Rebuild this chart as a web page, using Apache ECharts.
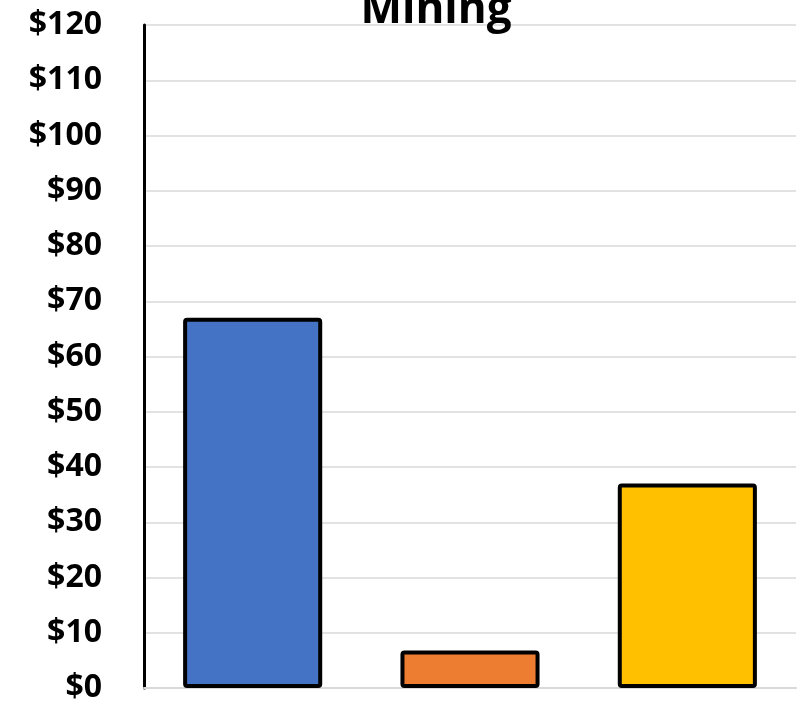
<html>
<head>
    <meta http-equiv="content-type" content="text/html; charset=utf-8">
    <title>Mining</title>
    <script src="https://cdn.jsdelivr.net/npm/echarts@6/dist/echarts.min.js"></script>
    <style>
        body { margin: 0; background: #fff; }
    </style>
</head>

<body>
    <div id='echart' style="width:804px; height:707px;"></div>
    <script type="text/javascript">
        var categories = ["A", "B", "C"];
        var values = [67, 6.8, 37];
        var colors = ["#4472C4", "#ED7D31", "#FFC000"];
        var yTicks = [0, 10, 20, 30, 40, 50, 60, 70, 80, 90, 100, 110, 120];

        var chart = echarts.init(document.getElementById("echart"));
        var option = {
            animation: false,
            title: {
                text: "Mining",
                left: 431,
                textAlign: "center",
                top: -17,
                textStyle: { fontFamily: "Open Sans", fontWeight: "bold", fontSize: 44, color: "#000" }
            },
            grid: { left: 144, right: 8, top: 25, bottom: 19, containLabel: false },
            xAxis: {
                type: "category",
                data: categories,
                axisLine: { lineStyle: { color: "#d9d9d9", width: 2 } },
                axisTick: { show: false },
                axisLabel: { show: false }
            },
            yAxis: {
                type: "value",
                min: yTicks[0],
                max: yTicks[yTicks.length - 1],
                interval: 10,
                axisLine: { show: true, lineStyle: { color: "#000", width: 3 } },
                axisTick: { show: false },
                splitLine: { lineStyle: { color: "#d9d9d9", width: 1.5 } },
                axisLabel: {
                    formatter: "${value}",
                    margin: 42,
                    fontFamily: "Open Sans",
                    fontWeight: "bold",
                    fontSize: 32,
                    color: "#000"
                }
            },
            series: [{
                type: "bar",
                barWidth: "64%",
                data: values.map(function (v, i) {
                    return { value: v, itemStyle: { color: colors[i] } };
                }),
                itemStyle: { borderColor: "#000", borderWidth: 4, borderRadius: 2 }
            }]
        };
        chart.setOption(option);
    </script>
</body>
</html>
